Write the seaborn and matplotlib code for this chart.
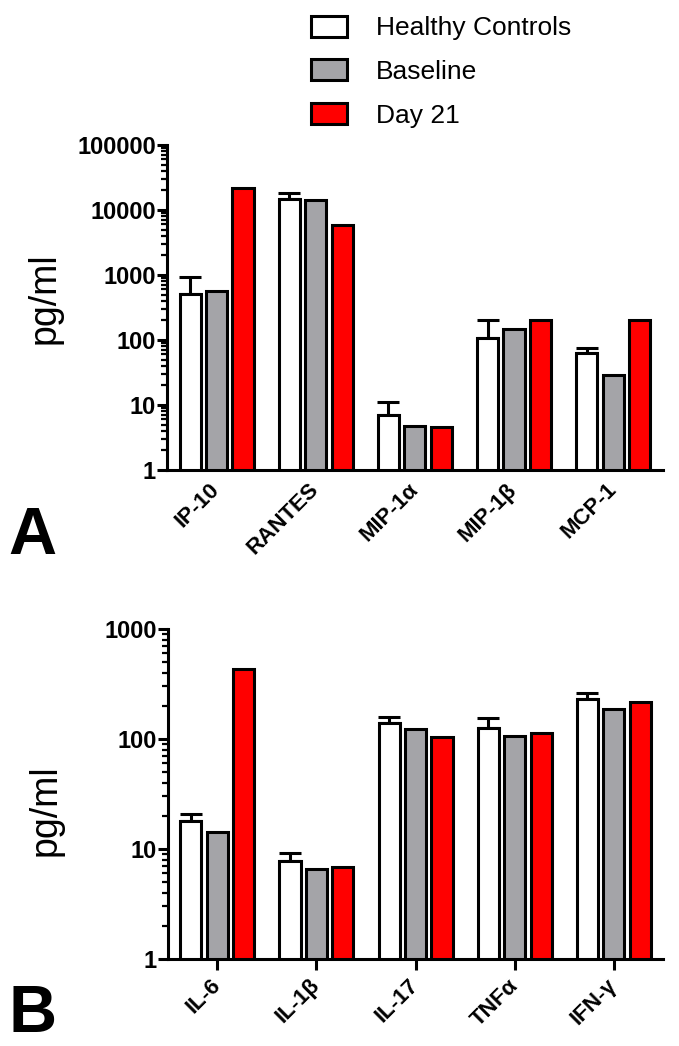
import numpy as np
import pandas as pd
import matplotlib.pyplot as plt
import seaborn as sns
from matplotlib.ticker import LogLocator, NullFormatter

sns.set_theme(style='ticks', rc={'text.color': 'black', 'axes.labelcolor': 'black',
                                 'xtick.color': 'black', 'ytick.color': 'black',
                                 'axes.edgecolor': 'black'})
plt.rcParams['font.family'] = ['Liberation Sans', 'DejaVu Sans']

groups = ['Healthy Controls', 'Baseline', 'Day 21']
colors = ['#FFFFFF', '#A4A4A8', '#FF0000']

# ── Panel A: chemokines ─────────────────────────────
chemokines = ['IP-10', 'RANTES', 'MIP-1α', 'MIP-1β', 'MCP-1']
chemo_healthy = [510, 15000, 6.9, 109, 62]
chemo_baseline = [570, 14000, 4.7, 150, 28.5]
chemo_day21 = [21500, 5800, 4.6, 200, 205]
chemo_healthy_top = [940, 18000, 11, 206, 76]   # top of the SEM bar
chemo_yticks = ['1', '10', '100', '1000', '10000', '100000']

# ── Panel B: cytokines ──────────────────────────────
cytokines = ['IL-6', 'IL-1β', 'IL-17', 'TNFα', 'IFN-γ']
cyto_healthy = [18, 7.8, 140, 126, 231]
cyto_baseline = [14.2, 6.6, 123, 106, 187]
cyto_day21 = [430, 6.9, 104, 114, 216]
cyto_healthy_top = [21, 9.2, 158, 155, 262]
cyto_yticks = ['1', '10', '100', '1000']

LW = 2.2


def draw_panel(ax, names, hc, bl, d21, hc_top, ytick_labels, xticks_on):
    df = pd.DataFrame({
        'name': names * 3,
        'group': np.repeat(groups, len(names)),
        'value': hc + bl + d21,
    })
    sns.barplot(data=df, x='name', y='value', hue='group', hue_order=groups,
                palette=colors, saturation=1, edgecolor='black', linewidth=LW,
                width=0.8, gap=0.2, errorbar=None, ax=ax, zorder=2)
    ax.set_yscale('log')

    # upward-only error bars on the healthy controls
    bars = ax.containers[0]
    xs = [p.get_x() + p.get_width() / 2 for p in bars]
    tops = np.array([p.get_height() for p in bars])
    ax.errorbar(xs, tops, yerr=[np.zeros(len(tops)), np.array(hc_top) - tops],
                fmt='none', ecolor='black', elinewidth=LW, capsize=8,
                capthick=LW, zorder=1)

    yt = [10 ** i for i in range(len(ytick_labels))]
    ax.set_ylim(1, yt[-1])
    ax.set_yticks(yt)
    ax.set_yticklabels(ytick_labels, fontsize=17, fontweight='bold')
    ax.yaxis.set_minor_locator(LogLocator(base=10, subs=np.arange(2, 10)))
    ax.yaxis.set_minor_formatter(NullFormatter())
    ax.tick_params(axis='y', which='major', length=7, width=LW, pad=1)
    ax.tick_params(axis='y', which='minor', length=4, width=1.6)

    ax.set_xlim(-0.5, len(names) - 0.5)
    ax.tick_params(axis='x', length=8 if xticks_on else 0, width=LW,
                   pad=9 if xticks_on else 12)
    for t in ax.get_xticklabels():
        t.set_rotation(45)
        t.set_ha('right')
        t.set_va('center')
        t.set_rotation_mode('anchor')
        t.set_fontsize(16)
        t.set_fontweight('bold')

    ax.set_xlabel('')
    ax.set_ylabel('pg/ml', fontsize=27)
    for s in ['left', 'bottom']:
        ax.spines[s].set_linewidth(LW)
    sns.despine(ax=ax)
    ax.get_legend().remove()


fig = plt.figure(figsize=(6.79, 10.46), dpi=100)
ax_a = fig.add_axes([0.246, 0.5507, 0.730, 0.3107])
ax_b = fig.add_axes([0.247, 0.0832, 0.730, 0.3155])

draw_panel(ax_a, chemokines, chemo_healthy, chemo_baseline, chemo_day21,
           chemo_healthy_top, chemo_yticks, False)
draw_panel(ax_b, cytokines, cyto_healthy, cyto_baseline, cyto_day21,
           cyto_healthy_top, cyto_yticks, True)
ax_a.yaxis.set_label_coords(-0.21, 0.53)
ax_b.yaxis.set_label_coords(-0.21, 0.45)

handles = [ax_a.containers[i].patches[0] for i in range(len(groups))]
fig.legend(handles, groups, loc='upper left', bbox_to_anchor=(0.458, 0.985),
           frameon=False, fontsize=19, handlelength=1.35, handleheight=0.85,
           handletextpad=1.1, labelspacing=0.72, borderpad=0, borderaxespad=0)

fig.text(0.012, 1 - 554 / 1046, 'A', fontsize=48, fontweight='bold', va='baseline')
fig.text(0.012, 1 - 1032 / 1046, 'B', fontsize=48, fontweight='bold', va='baseline')

plt.savefig('out.png', dpi=100)
plt.close(fig)
